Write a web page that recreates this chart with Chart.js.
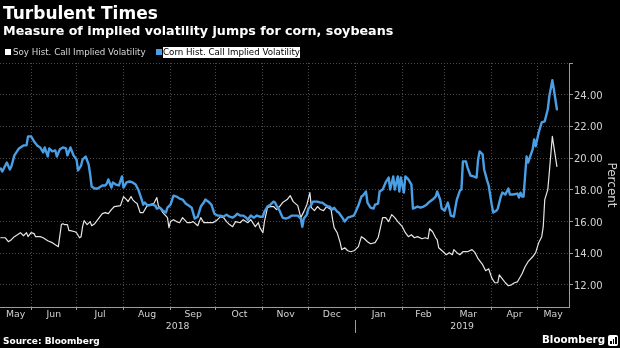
<!DOCTYPE html>
<html>
<head>
<meta charset="utf-8">
<title>Turbulent Times</title>
<script src="https://cdn.jsdelivr.net/npm/chart.js@4.4.1/dist/chart.umd.min.js"></script>
<style>
    html, body { margin: 0; padding: 0; background: #000; }
    #wrap { position: relative; width: 620px; height: 348px; background: #000; overflow: hidden; font-family: 'DejaVu Sans', sans-serif; }
    #chart { position: absolute; left: 0; top: 0; }
    .txt { position: absolute; white-space: nowrap; line-height: 1; }
    .title { left: 3px; top: 5px; font-size: 17px; font-weight: bold; color: #fff; }
    .subtitle { left: 3px; top: 24.5px; font-size: 12.7px; font-weight: bold; color: #fff; }
    .swatch { position: absolute; width: 6px; height: 6px; }
    .legend { font-size: 8.7px; color: #dadada; }
    .legend.active { background: #fff; color: #000; padding: 1px 0 1px 0; }
    .source { left: 3px; top: 337px; font-size: 9px; font-weight: bold; color: #fff; }
    .brand { left: 542px; top: 334px; font-size: 10.3px; font-weight: bold; color: #fff; }
    .logo { position: absolute; left: 608px; top: 335px; width: 10px; height: 11px; background: #fff; border-radius: 2px; }
    .logo span { position: absolute; bottom: 2px; width: 1.5px; background: #000; }
</style>
</head>
<body>
<div id="wrap">
    <canvas id="chart" width="620" height="348"></canvas>
    <div class="txt title">Turbulent Times</div>
    <div class="txt subtitle">Measure of implied volatility jumps for corn, soybeans</div>
    <div class="swatch" style="left:5px; top:48.5px; background:#fff;"></div>
    <div class="txt legend" style="left:13px; top:48px;">Soy Hist. Call Implied Volatility</div>
    <div class="swatch" style="left:156px; top:48.5px; background:#4a9ee6;"></div>
    <div class="txt legend active" style="left:163px; top:47px;">Corn Hist. Call Implied Volatility</div>
    <div class="txt source">Source: Bloomberg</div>
    <div class="txt brand">Bloomberg</div>
    <div class="logo"><span style="left:2px;height:3px"></span><span style="left:4.5px;height:5px"></span><span style="left:7px;height:7px"></span></div>
</div>
<script>
// x values are days counted from 1 May 2018
const xMin = 10.5;   // 11 May 2018
const xMax = 386;    // 22 May 2019

// first day of each month (grid lines)
const monthStarts = [31, 61, 92, 123, 153, 184, 214, 245, 276, 304, 335, 365];
const monthLabels = ['May', 'Jun', 'Jul', 'Aug', 'Sep', 'Oct', 'Nov', 'Dec', 'Jan', 'Feb', 'Mar', 'Apr', 'May'];
const yearSplit = 245;   // 1 Jan 2019
const yearLabels = ['2018', '2019'];
const yTicks = [12, 14, 16, 18, 20, 22, 24, 26];

// Soy Hist. Call Implied Volatility
const soyDays = [11, 14, 16, 18, 20, 22, 24, 26, 28, 29, 31, 33, 34, 37, 39, 40, 42, 45, 47, 48, 49, 51, 52, 53, 55, 56, 57, 60, 61, 63,
    64, 65, 66, 68, 70, 71, 73, 75, 78, 80, 82, 84, 86, 90, 92, 94, 95, 97, 98, 100, 101, 103, 105, 108, 109, 112, 114, 115, 116, 118,
    121, 122, 123, 125, 127, 129, 131, 134, 136, 138, 141, 143, 145, 147, 149, 151, 154, 156, 158, 160, 162, 164, 166, 169, 171, 174, 176, 179, 181, 182,
    184, 185, 187, 189, 191, 193, 195, 197, 200, 202, 204, 207, 208, 209, 211, 213, 214, 215, 216, 218, 220, 222, 224, 226, 227, 229, 230, 231, 233, 235,
    236, 238, 240, 242, 244, 245, 247, 249, 251, 253, 255, 258, 260, 262, 263, 265, 266, 267, 269, 271, 273, 276, 278, 280, 282, 284, 286, 289, 291, 293,
    294, 296, 298, 299, 300, 303, 305, 307, 309, 310, 312, 314, 316, 319, 322, 324, 326, 329, 331, 333, 335, 337, 339, 340, 342, 344, 346, 348, 350, 352,
    355, 357, 359, 362, 364, 366, 368, 369, 370, 372, 373, 375, 376, 378];
const soyVals = [14.97, 14.97, 14.72, 14.85, 15.04, 15.16, 15.29, 15.10, 15.29, 15.04, 15.29, 15.23, 15.04, 15.04, 14.97, 14.91, 14.78, 14.66, 14.53, 14.47, 14.41, 15.80, 15.86, 15.80, 15.80, 15.42, 15.42, 15.35, 15.29, 14.97,
    15.04, 15.67, 16.05, 15.80, 15.99, 15.73, 15.86, 16.11, 16.49, 16.56, 16.49, 16.75, 16.94, 17.00, 17.57, 17.38, 17.25, 17.57, 17.38, 17.19, 17.13, 16.56, 16.56, 17.06, 17.06, 17.13, 17.51, 17.00, 16.87, 16.56,
    16.24, 15.61, 15.99, 16.11, 15.99, 15.92, 16.24, 15.92, 15.92, 15.99, 15.73, 16.24, 15.92, 15.92, 15.92, 15.92, 16.11, 16.30, 16.24, 15.99, 15.80, 15.67, 15.99, 15.92, 16.11, 15.92, 16.11, 15.67, 15.92, 15.61,
    15.29, 15.99, 16.87, 16.94, 16.94, 16.75, 16.94, 17.19, 17.38, 17.63, 17.25, 17.00, 16.62, 16.24, 16.62, 17.06, 17.44, 17.82, 16.87, 16.68, 16.94, 16.75, 16.68, 16.94, 16.87, 16.75, 16.11, 15.61, 15.29, 14.66,
    14.22, 14.34, 14.15, 14.09, 14.15, 14.22, 14.41, 15.04, 14.91, 14.72, 14.59, 14.66, 14.97, 15.80, 16.24, 16.24, 16.11, 15.99, 16.43, 16.24, 15.99, 15.67, 15.29, 15.04, 15.16, 14.97, 15.04, 14.91, 14.97, 14.91,
    15.54, 15.35, 14.97, 14.85, 14.34, 14.09, 13.90, 14.03, 13.90, 14.22, 14.03, 13.90, 14.09, 14.09, 14.22, 14.03, 13.65, 13.27, 12.89, 13.01, 12.44, 12.13, 12.13, 12.63, 12.38, 12.13, 11.94, 12.00, 12.13, 12.19,
    12.70, 13.14, 13.46, 13.77, 14.03, 14.66, 15.04, 15.67, 17.38, 18.01, 19.09, 21.37, 20.74, 19.47];

// Corn Hist. Call Implied Volatility
const cornDays = [11, 12, 15, 17, 18, 20, 23, 26, 28, 29, 31, 33, 35, 37, 39, 40, 42, 43, 45, 47, 48, 50, 52, 54, 55, 57, 59, 61, 62, 64,
    65, 67, 69, 70, 71, 73, 75, 78, 80, 81, 82, 84, 85, 87, 89, 91, 92, 94, 96, 98, 100, 102, 104, 105, 106, 108, 111, 113, 114, 116,
    118, 120, 121, 123, 125, 127, 129, 131, 133, 135, 137, 139, 141, 143, 145, 146, 148, 150, 152, 154, 156, 158, 160, 162, 164, 166, 167, 169, 171, 173,
    174, 176, 178, 180, 182, 184, 185, 187, 189, 191, 192, 193, 195, 197, 199, 201, 203, 205, 207, 209, 210, 211, 213, 214, 216, 217, 220, 222, 223, 225,
    227, 228, 230, 231, 233, 234, 236, 238, 240, 242, 244, 245, 247, 249, 250, 252, 253, 255, 257, 258, 260, 261, 263, 265, 267, 268, 270, 271, 273, 274,
    275, 277, 278, 280, 282, 283, 286, 288, 290, 292, 294, 296, 298, 299, 301, 302, 304, 306, 307, 308, 310, 311, 312, 314, 315, 316, 318, 319, 321, 323,
    325, 326, 327, 329, 330, 332, 333, 335, 336, 338, 339, 341, 342, 344, 346, 347, 349, 352, 353, 354, 355, 356, 358, 359, 362, 363, 364, 366, 368, 370,
    372, 373, 375, 376, 378];
const cornVals = [19.34, 19.15, 19.72, 19.28, 19.47, 20.17, 20.61, 20.80, 20.80, 21.37, 21.37, 21.05, 20.80, 20.67, 20.36, 20.67, 20.10, 20.61, 20.42, 20.48, 20.10, 20.55, 20.67, 20.61, 20.17, 20.67, 20.17, 19.91, 19.22, 19.53,
    19.91, 20.10, 19.60, 18.96, 18.20, 18.08, 18.08, 18.27, 18.27, 18.39, 18.65, 18.14, 18.46, 18.33, 18.27, 18.84, 18.14, 18.46, 18.52, 18.46, 18.33, 17.95, 17.38, 17.06, 17.19, 17.00, 17.06, 17.00, 16.81, 16.87,
    16.68, 16.56, 16.87, 17.06, 17.63, 17.57, 17.44, 17.38, 17.13, 17.00, 16.87, 16.18, 16.30, 16.94, 17.19, 17.38, 17.25, 17.06, 16.49, 16.37, 16.37, 16.30, 16.43, 16.30, 16.24, 16.37, 16.49, 16.37, 16.37, 16.24,
    16.11, 16.37, 16.24, 16.37, 16.30, 16.30, 16.62, 16.94, 17.06, 17.25, 17.19, 17.00, 16.68, 16.24, 16.18, 16.24, 16.37, 16.37, 16.37, 16.18, 15.67, 16.18, 16.43, 16.81, 17.06, 17.25, 17.25, 17.19, 17.19, 17.06,
    16.94, 16.94, 16.75, 16.87, 16.62, 16.56, 16.30, 15.99, 16.24, 16.30, 16.37, 16.56, 17.00, 17.57, 17.63, 17.89, 17.19, 16.87, 16.81, 17.06, 17.13, 17.89, 18.01, 18.46, 18.77, 18.01, 18.84, 18.01, 18.84, 17.89,
    18.77, 17.82, 18.84, 18.65, 18.33, 16.81, 16.94, 16.87, 16.94, 17.06, 17.25, 17.38, 17.57, 17.89, 17.38, 16.81, 16.68, 17.19, 16.81, 16.37, 16.30, 16.87, 17.38, 17.95, 18.01, 19.79, 19.79, 19.41, 18.90, 18.84,
    18.77, 19.91, 20.42, 20.23, 19.28, 18.58, 18.27, 17.06, 16.56, 16.68, 16.81, 17.57, 17.82, 17.70, 18.08, 17.70, 17.70, 17.76, 17.51, 17.82, 17.57, 17.57, 20.10, 19.72, 20.55, 21.18, 20.74, 21.62, 22.25, 22.32,
    23.08, 23.90, 24.91, 24.34, 23.08];

// Build points for a linear x axis
function toPoints(days, vals) {
    return days.map((d, i) => ({ x: d, y: vals[i] }));
}

// Month labels sit in the middle of each month, year labels in the middle of each year
const monthBounds = [xMin, ...monthStarts, xMax];
const monthLabelDays = monthLabels.map((m, i) => (monthBounds[i] + monthBounds[i + 1]) / 2);
const yearTickDays = [(xMin + yearSplit) / 2, yearSplit, (yearSplit + xMax) / 2];
const yearTickLabels = [yearLabels[0], '', yearLabels[1]];

const gridColor = '#4a4a4a';
const axisColor = '#9c9c9c';
const labelColor = '#d2d2d2';

Chart.defaults.font.family = "'DejaVu Sans', sans-serif";

document.addEventListener('DOMContentLoaded', function() {
    const ctx = document.getElementById('chart').getContext('2d');

    new Chart(ctx, {
        type: 'line',
        data: {
            datasets: [{
                label: 'Soy Hist. Call Implied Volatility',
                data: toPoints(soyDays, soyVals),
                borderColor: '#e6e6e6',
                borderWidth: 1.2,
                order: 1
            }, {
                label: 'Corn Hist. Call Implied Volatility',
                data: toPoints(cornDays, cornVals),
                borderColor: '#4a9ee6',
                borderWidth: 2.4,
                order: 0
            }]
        },
        options: {
            responsive: false,
            animation: false,
            devicePixelRatio: 1,
            layout: {
                padding: { top: 63, left: 0, right: 0, bottom: 13 }
            },
            elements: {
                point: { radius: 0 },
                line: { tension: 0, borderJoinStyle: 'round', borderCapStyle: 'round' }
            },
            plugins: {
                legend: { display: false },
                tooltip: { enabled: false }
            },
            scales: {
                x: {
                    type: 'linear',
                    position: 'bottom',
                    min: xMin,
                    max: xMax,
                    weight: 0,
                    afterBuildTicks: function(scale) {
                        scale.ticks = monthStarts.map(v => ({ value: v }));
                    },
                    afterFit: function(scale) { scale.height = 2; },
                    ticks: { callback: () => '', autoSkip: false, maxRotation: 0, padding: 0 },
                    grid: { color: gridColor, lineWidth: 1, tickLength: 3, tickColor: axisColor, tickBorderDash: [] },
                    border: { display: true, color: axisColor, width: 1, dash: [1, 2] }
                },
                xMonths: {
                    axis: 'x',
                    type: 'linear',
                    position: 'bottom',
                    min: xMin,
                    max: xMax,
                    weight: 1,
                    afterBuildTicks: function(scale) {
                        scale.ticks = monthLabelDays.map(v => ({ value: v }));
                    },
                    afterFit: function(scale) { scale.height = 11; },
                    ticks: {
                        callback: (v, i) => monthLabels[i],
                        autoSkip: false,
                        maxRotation: 0,
                        padding: 0,
                        color: labelColor,
                        font: { size: 9.3 }
                    },
                    grid: { display: false, drawTicks: false },
                    border: { display: false }
                },
                xYears: {
                    axis: 'x',
                    type: 'linear',
                    position: 'bottom',
                    min: xMin,
                    max: xMax,
                    weight: 2,
                    afterBuildTicks: function(scale) {
                        scale.ticks = yearTickDays.map(v => ({ value: v }));
                    },
                    afterFit: function(scale) { scale.height = 15; },
                    ticks: {
                        callback: (v, i) => yearTickLabels[i],
                        autoSkip: false,
                        maxRotation: 0,
                        padding: -11.5,
                        color: labelColor,
                        font: { size: 9.3 }
                    },
                    grid: {
                        drawOnChartArea: false,
                        tickLength: 13,
                        color: 'transparent',
                        tickColor: c => (c.tick && c.tick.value === yearSplit) ? axisColor : 'transparent',
                        tickBorderDash: []
                    },
                    border: { display: false }
                },
                y: {
                    position: 'right',
                    min: 10.6,
                    max: 26,
                    afterBuildTicks: function(scale) {
                        scale.ticks = yTicks.map(v => ({ value: v }));
                    },
                    afterFit: function(scale) { scale.width = 51; },
                    ticks: {
                        callback: v => v === 26 ? '' : v.toFixed(2),
                        color: labelColor,
                        padding: 1,
                        labelOffset: 1.5,
                        font: { size: 10 }
                    },
                    grid: { color: gridColor, tickLength: 4, tickColor: axisColor, tickBorderDash: [] },
                    border: { display: true, color: axisColor, width: 1, dash: [1, 2] },
                    title: {
                        display: true,
                        text: 'Percent',
                        color: labelColor,
                        font: { size: 12 },
                        padding: { top: 2, bottom: 0 }
                    }
                }
            }
        }
    });
});
</script>
</body>
</html>
